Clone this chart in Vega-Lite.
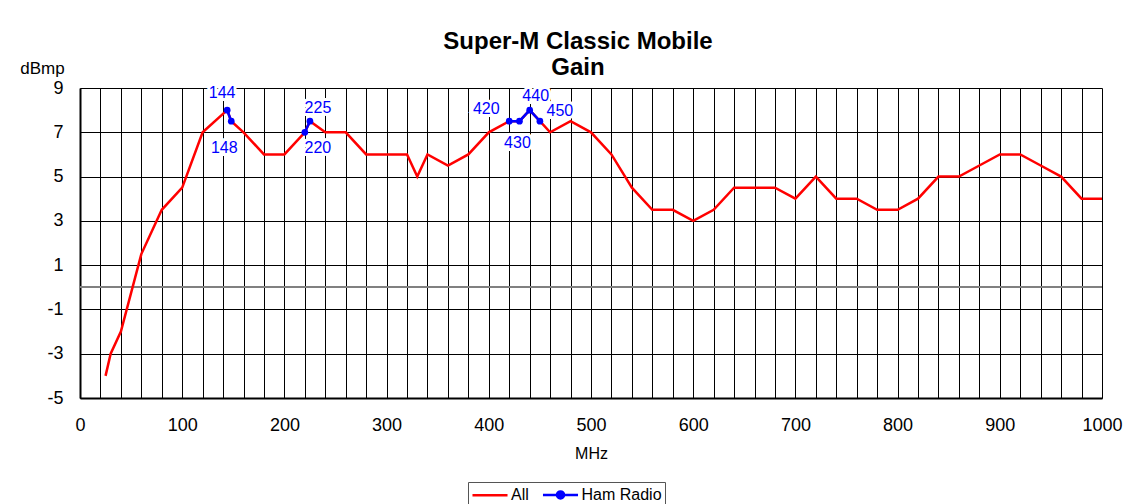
{
  "$schema": "https://vega.github.io/schema/vega-lite/v6.json",
  "autosize": "none",
  "width": 1022,
  "height": 310,
  "padding": {"left": 80, "top": 88, "right": 35, "bottom": 106},
  "background": "white",
  "config": {
    "font": "Liberation Sans",
    "view": {"stroke": null},
    "axis": {"labelColor": "black", "titleColor": "black", "labelFont": "Liberation Sans", "titleFont": "Liberation Sans", "titleFontWeight": "normal"}
  },
  "title": {
    "text": ["Super-M Classic Mobile", "Gain"],
    "fontSize": 24,
    "fontWeight": "bold",
    "font": "Liberation Sans",
    "color": "black",
    "anchor": "middle",
    "dx": -13,
    "dy": 29,
    "offset": 8,
    "lineHeight": 26
  },
  "data": {
    "values": [
      {"MHz": 25, "dBmp": -4, "series": "All", "band": "All"},
      {"MHz": 30, "dBmp": -3, "series": "All", "band": "All"},
      {"MHz": 40, "dBmp": -2, "series": "All", "band": "All"},
      {"MHz": 60, "dBmp": 1.5, "series": "All", "band": "All"},
      {"MHz": 80, "dBmp": 3.5, "series": "All", "band": "All"},
      {"MHz": 100, "dBmp": 4.5, "series": "All", "band": "All"},
      {"MHz": 120, "dBmp": 7, "series": "All", "band": "All"},
      {"MHz": 144, "dBmp": 8, "series": "All", "band": "All"},
      {"MHz": 148, "dBmp": 7.5, "series": "All", "band": "All"},
      {"MHz": 160, "dBmp": 7, "series": "All", "band": "All"},
      {"MHz": 180, "dBmp": 6, "series": "All", "band": "All"},
      {"MHz": 200, "dBmp": 6, "series": "All", "band": "All"},
      {"MHz": 220, "dBmp": 7, "series": "All", "band": "All"},
      {"MHz": 225, "dBmp": 7.5, "series": "All", "band": "All"},
      {"MHz": 240, "dBmp": 7, "series": "All", "band": "All"},
      {"MHz": 260, "dBmp": 7, "series": "All", "band": "All"},
      {"MHz": 280, "dBmp": 6, "series": "All", "band": "All"},
      {"MHz": 300, "dBmp": 6, "series": "All", "band": "All"},
      {"MHz": 320, "dBmp": 6, "series": "All", "band": "All"},
      {"MHz": 330, "dBmp": 5, "series": "All", "band": "All"},
      {"MHz": 340, "dBmp": 6, "series": "All", "band": "All"},
      {"MHz": 360, "dBmp": 5.5, "series": "All", "band": "All"},
      {"MHz": 380, "dBmp": 6, "series": "All", "band": "All"},
      {"MHz": 400, "dBmp": 7, "series": "All", "band": "All"},
      {"MHz": 420, "dBmp": 7.5, "series": "All", "band": "All"},
      {"MHz": 430, "dBmp": 7.5, "series": "All", "band": "All"},
      {"MHz": 440, "dBmp": 8, "series": "All", "band": "All"},
      {"MHz": 450, "dBmp": 7.5, "series": "All", "band": "All"},
      {"MHz": 460, "dBmp": 7, "series": "All", "band": "All"},
      {"MHz": 480, "dBmp": 7.5, "series": "All", "band": "All"},
      {"MHz": 500, "dBmp": 7, "series": "All", "band": "All"},
      {"MHz": 520, "dBmp": 6, "series": "All", "band": "All"},
      {"MHz": 540, "dBmp": 4.5, "series": "All", "band": "All"},
      {"MHz": 560, "dBmp": 3.5, "series": "All", "band": "All"},
      {"MHz": 580, "dBmp": 3.5, "series": "All", "band": "All"},
      {"MHz": 600, "dBmp": 3, "series": "All", "band": "All"},
      {"MHz": 620, "dBmp": 3.5, "series": "All", "band": "All"},
      {"MHz": 640, "dBmp": 4.5, "series": "All", "band": "All"},
      {"MHz": 660, "dBmp": 4.5, "series": "All", "band": "All"},
      {"MHz": 680, "dBmp": 4.5, "series": "All", "band": "All"},
      {"MHz": 700, "dBmp": 4, "series": "All", "band": "All"},
      {"MHz": 720, "dBmp": 5, "series": "All", "band": "All"},
      {"MHz": 740, "dBmp": 4, "series": "All", "band": "All"},
      {"MHz": 760, "dBmp": 4, "series": "All", "band": "All"},
      {"MHz": 780, "dBmp": 3.5, "series": "All", "band": "All"},
      {"MHz": 800, "dBmp": 3.5, "series": "All", "band": "All"},
      {"MHz": 820, "dBmp": 4, "series": "All", "band": "All"},
      {"MHz": 840, "dBmp": 5, "series": "All", "band": "All"},
      {"MHz": 860, "dBmp": 5, "series": "All", "band": "All"},
      {"MHz": 880, "dBmp": 5.5, "series": "All", "band": "All"},
      {"MHz": 900, "dBmp": 6, "series": "All", "band": "All"},
      {"MHz": 920, "dBmp": 6, "series": "All", "band": "All"},
      {"MHz": 940, "dBmp": 5.5, "series": "All", "band": "All"},
      {"MHz": 960, "dBmp": 5, "series": "All", "band": "All"},
      {"MHz": 980, "dBmp": 4, "series": "All", "band": "All"},
      {"MHz": 1000, "dBmp": 4, "series": "All", "band": "All"},
      {"MHz": 144, "dBmp": 8, "series": "Ham Radio", "band": "2m"},
      {"MHz": 148, "dBmp": 7.5, "series": "Ham Radio", "band": "2m"},
      {"MHz": 220, "dBmp": 7, "series": "Ham Radio", "band": "1.25m"},
      {"MHz": 225, "dBmp": 7.5, "series": "Ham Radio", "band": "1.25m"},
      {"MHz": 420, "dBmp": 7.5, "series": "Ham Radio", "band": "70cm"},
      {"MHz": 430, "dBmp": 7.5, "series": "Ham Radio", "band": "70cm"},
      {"MHz": 440, "dBmp": 8, "series": "Ham Radio", "band": "70cm"},
      {"MHz": 450, "dBmp": 7.5, "series": "Ham Radio", "band": "70cm"}
    ]
  },
  "encoding": {
    "x": {
      "field": "MHz", "type": "quantitative",
      "scale": {"domain": [0, 1000], "nice": false, "zero": false},
      "axis": {
        "title": "MHz",
        "titleFontSize": 16,
        "titleY": 55,
        "titleBaseline": "middle",
        "values": [0,20,40,60,80,100,120,140,160,180,200,220,240,260,280,300,320,340,360,380,400,420,440,460,480,500,520,540,560,580,600,620,640,660,680,700,720,740,760,780,800,820,840,860,880,900,920,940,960,980,1000],
        "labelExpr": "datum.value % 100 === 0 ? datum.value + '' : ''",
        "labelFontSize": 18,
        "labelPadding": 18,
        "labelFlush": false,
        "labelOverlap": false,
        "labelBound": false,
        "ticks": false,
        "grid": true,
        "gridColor": "black",
        "gridOpacity": 1,
        "gridWidth": 1,
        "domainColor": "black",
        "domainWidth": 2
      }
    },
    "y": {
      "field": "dBmp", "type": "quantitative",
      "scale": {"domain": [-5, 9], "nice": false, "zero": false},
      "axis": {
        "title": "dBmp",
        "titleFontSize": 17,
        "titleAngle": 0,
        "titleX": -38,
        "titleY": -20,
        "titleAlign": "center",
        "titleBaseline": "middle",
        "values": [-5, -3, -1, 1, 3, 5, 7, 9],
        "labelExpr": "datum.value + ''",
        "labelFontSize": 18,
        "labelPadding": 17,
        "labelFlush": false,
        "ticks": false,
        "grid": true,
        "gridColor": "black",
        "gridOpacity": 1,
        "gridWidth": 1,
        "domainColor": "black",
        "domainWidth": 2
      }
    }
  },
  "layer": [
    {
      "mark": {"type": "rule", "color": "#808080", "strokeWidth": 1.5},
      "encoding": {"y": {"datum": 0}, "x": {"datum": 0}, "x2": {"datum": 1000}}
    },
    {
      "mark": {"type": "line", "strokeWidth": 2.5},
      "encoding": {
        "color": {
          "field": "series", "type": "nominal",
          "scale": {"domain": ["All", "Ham Radio"], "range": ["#ff0000", "#0000ff"]},
          "legend": {
            "orient": "none",
            "legendX": 388,
            "legendY": 394,
            "direction": "horizontal",
            "title": null,
            "strokeColor": "#555",
            "padding": 3,
            "symbolType": "stroke",
            "symbolSize": 256,
            "symbolOffset": 9.5,
            "symbolStrokeWidth": 2.5,
            "labelFontSize": 16,
            "labelFont": "Liberation Sans",
            "labelColor": "black",
            "labelOffset": 11.5,
            "columnPadding": 8.5,
            "encode": {
              "symbols": {
                "update": {
                  "shape": {"signal": "datum.value === 'Ham Radio' ? 'M-2.19,0H2.19M-0.44,0A0.44,0.44,0,1,1,0.44,0A0.44,0.44,0,1,1,-0.44,0Z' : 'M-2.19,0H2.19'"},
                  "fill": {"signal": "datum.value === 'Ham Radio' ? '#0000ff' : 'transparent'"}
                }
              }
            }
          }
        },
        "detail": {"field": "band"},
        "order": {"field": "MHz", "type": "quantitative"}
      }
    },
    {
      "transform": [{"filter": "datum.series === 'Ham Radio'"}],
      "mark": {"type": "point", "filled": true, "size": 45, "color": "#0000ff", "opacity": 1}
    },
    {
      "transform": [{"filter": "datum.series === 'Ham Radio'"}],
      "encoding": {"text": {"field": "MHz", "type": "quantitative"}},
      "layer": [
        {"transform": [{"filter": "datum.MHz === 144"}], "layer": [
          {"mark": {"type": "text", "fontSize": 16, "dx": -5, "dy": -17, "stroke": "white", "strokeWidth": 6, "fill": "white"}},
          {"mark": {"type": "text", "fontSize": 16, "dx": -5, "dy": -17, "color": "#0000ff"}}
        ]},
        {"transform": [{"filter": "datum.MHz === 148"}], "layer": [
          {"mark": {"type": "text", "fontSize": 16, "dx": -7, "dy": 27, "stroke": "white", "strokeWidth": 6, "fill": "white"}},
          {"mark": {"type": "text", "fontSize": 16, "dx": -7, "dy": 27, "color": "#0000ff"}}
        ]},
        {"transform": [{"filter": "datum.MHz === 220"}], "layer": [
          {"mark": {"type": "text", "fontSize": 16, "dx": 13, "dy": 16, "stroke": "white", "strokeWidth": 6, "fill": "white"}},
          {"mark": {"type": "text", "fontSize": 16, "dx": 13, "dy": 16, "color": "#0000ff"}}
        ]},
        {"transform": [{"filter": "datum.MHz === 225"}], "layer": [
          {"mark": {"type": "text", "fontSize": 16, "dx": 8, "dy": -13, "stroke": "white", "strokeWidth": 6, "fill": "white"}},
          {"mark": {"type": "text", "fontSize": 16, "dx": 8, "dy": -13, "color": "#0000ff"}}
        ]},
        {"transform": [{"filter": "datum.MHz === 420"}], "layer": [
          {"mark": {"type": "text", "fontSize": 16, "dx": -23, "dy": -12, "stroke": "white", "strokeWidth": 6, "fill": "white"}},
          {"mark": {"type": "text", "fontSize": 16, "dx": -23, "dy": -12, "color": "#0000ff"}}
        ]},
        {"transform": [{"filter": "datum.MHz === 430"}], "layer": [
          {"mark": {"type": "text", "fontSize": 16, "dx": -2, "dy": 22, "stroke": "white", "strokeWidth": 6, "fill": "white"}},
          {"mark": {"type": "text", "fontSize": 16, "dx": -2, "dy": 22, "color": "#0000ff"}}
        ]},
        {"transform": [{"filter": "datum.MHz === 440"}], "layer": [
          {"mark": {"type": "text", "fontSize": 16, "dx": 6, "dy": -14, "stroke": "white", "strokeWidth": 6, "fill": "white"}},
          {"mark": {"type": "text", "fontSize": 16, "dx": 6, "dy": -14, "color": "#0000ff"}}
        ]},
        {"transform": [{"filter": "datum.MHz === 450"}], "layer": [
          {"mark": {"type": "text", "fontSize": 16, "dx": 20, "dy": -10, "stroke": "white", "strokeWidth": 6, "fill": "white"}},
          {"mark": {"type": "text", "fontSize": 16, "dx": 20, "dy": -10, "color": "#0000ff"}}
        ]}
      ]
    }
  ]
}
